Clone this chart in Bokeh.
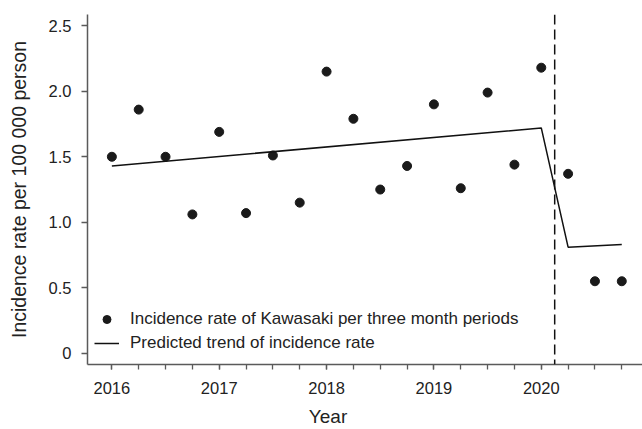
from bokeh.plotting import figure
from bokeh.models import (ColumnDataSource, FixedTicker, Span, Legend, LegendItem,
                          Range1d)
from bokeh.embed import file_html
from bokeh.resources import INLINE

# ---- data ----
quarters = [2016.0, 2016.25, 2016.5, 2016.75,
            2017.0, 2017.25, 2017.5, 2017.75,
            2018.0, 2018.25, 2018.5, 2018.75,
            2019.0, 2019.25, 2019.5, 2019.75,
            2020.0, 2020.25, 2020.5, 2020.75]
incidence = [1.50, 1.86, 1.50, 1.06,
             1.69, 1.07, 1.51, 1.15,
             2.15, 1.79, 1.25, 1.43,
             1.90, 1.26, 1.99, 1.44,
             2.18, 1.37, 0.55, 0.55]
trend_x = [2016.0, 2020.0, 2020.25, 2020.75]
trend_y = [1.43, 1.72, 0.81, 0.83]
intervention = 2020.125

year_ticks = [2016, 2017, 2018, 2019, 2020]
y_ticks = [0, 0.5, 1.0, 1.5, 2.0, 2.5]
y_tick_labels = ["0", "0.5", "1.0", "1.5", "2.0", "2.5"]

series_label = "Incidence rate of Kawasaki per three month periods"
trend_label = "Predicted trend of incidence rate"
x_title = "Year"
y_title = "Incidence rate per 100 000 person"

FONT = "Liberation Sans"
TXT = "#222222"
AX = "#5a5a5a"

p = figure(width=642, height=429, output_backend="svg", toolbar_location=None,
           x_range=Range1d(2015.773, 2020.943), y_range=Range1d(-0.0855, 2.586),
           min_border_left=87, min_border_right=0, min_border_top=14,
           min_border_bottom=65)
p.outline_line_color = None
p.xgrid.visible = False
p.ygrid.visible = False
p.background_fill_color = "white"
p.border_fill_color = "white"

src = ColumnDataSource(dict(x=quarters, y=incidence))
pts = p.scatter("x", "y", source=src, size=9, color="#1a1a1a")
tsrc = ColumnDataSource(dict(x=trend_x, y=trend_y))
ln = p.line("x", "y", source=tsrc, line_color="#111111", line_width=1.5)

p.add_layout(Span(location=intervention, dimension="height", line_color="#111111",
                  line_width=1.5, line_dash="10 5"))

# x axis
xa = p.xaxis[0]
xa.ticker = FixedTicker(ticks=year_ticks, minor_ticks=quarters)
xa.axis_line_color = AX
xa.axis_line_width = 1.5
xa.major_tick_line_color = AX
xa.minor_tick_line_color = AX
xa.major_tick_line_width = 1.3
xa.minor_tick_line_width = 1.3
xa.major_tick_in = 0
xa.major_tick_out = 5
xa.minor_tick_in = 0
xa.minor_tick_out = 5
xa.major_label_text_font = FONT
xa.major_label_text_font_size = "16.5px"
xa.major_label_text_color = TXT
xa.major_label_standoff = 12
# the original's "Year" sits left of the frame centre: trailing no-break
# spaces shift the centred label to that spot
xa.axis_label = x_title + "\u00a0" * 14
xa.axis_label_text_font = FONT
xa.axis_label_text_font_size = "19px"
xa.axis_label_text_font_style = "normal"
xa.axis_label_text_color = TXT
xa.axis_label_standoff = 9

# y axis
ya = p.yaxis[0]
ya.ticker = FixedTicker(ticks=y_ticks, minor_ticks=[])
ya.major_label_overrides = {t: l for t, l in zip(y_ticks, y_tick_labels)}
ya.axis_line_color = AX
ya.axis_line_width = 1.5
ya.major_tick_line_color = AX
ya.major_tick_line_width = 1.3
ya.major_tick_in = 0
ya.major_tick_out = 6
ya.minor_tick_line_color = None
ya.major_label_text_font = FONT
ya.major_label_text_font_size = "16.5px"
ya.major_label_text_color = TXT
ya.major_label_standoff = 10
ya.axis_label = y_title
ya.axis_label_text_font = FONT
ya.axis_label_text_font_size = "19.5px"
ya.axis_label_text_font_style = "normal"
ya.axis_label_text_color = TXT
ya.axis_label_standoff = 16

legend = Legend(items=[LegendItem(label=series_label, renderers=[pts]),
                       LegendItem(label=trend_label, renderers=[ln])],
                location=(7, 11), glyph_width=25, glyph_height=20,
                label_height=20, spacing=4, label_standoff=11,
                padding=0, margin=0, border_line_color=None,
                background_fill_alpha=0,
                label_text_font=FONT, label_text_font_size="17px",
                label_text_color=TXT)
p.add_layout(legend)

open("out.html", "w").write(file_html(p, INLINE))
